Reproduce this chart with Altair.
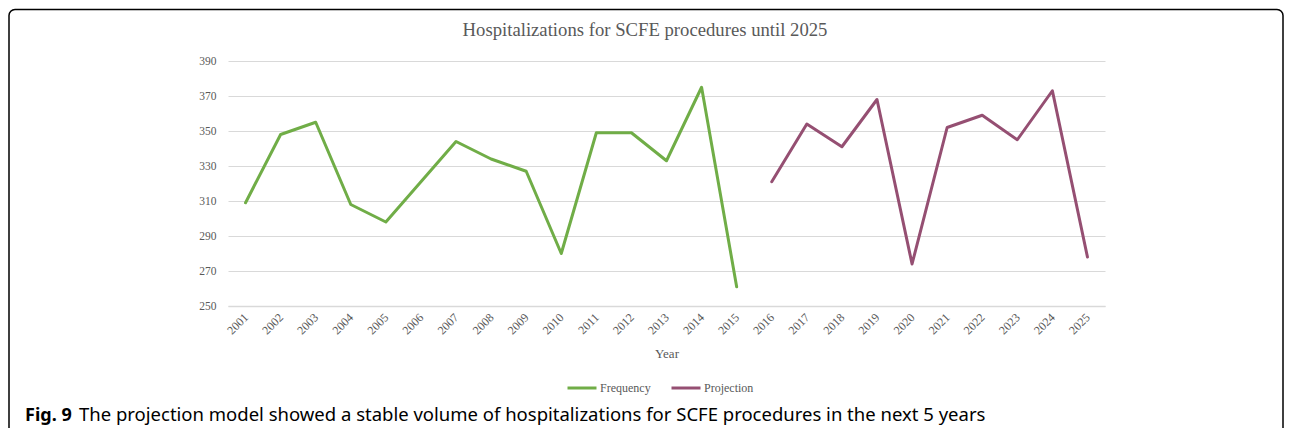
import altair as alt
import pandas as pd

years = [str(y) for y in range(2001, 2026)]
freq_years = [str(y) for y in range(2001, 2016)]
frequency = [309, 348, 355, 308, 298, 321, 344, 334, 327, 280, 349, 349, 333, 375, 261]
proj_years = [str(y) for y in range(2016, 2026)]
projection = [321, 354, 341, 368, 274, 352, 359, 345, 373, 278]
series_names = ["Frequency", "Projection"]
series_colors = ["#70AD47", "#954F72"]
y_ticks = [250, 270, 290, 310, 330, 350, 370, 390]

title_text = "Hospitalizations for SCFE procedures until 2025"
caption_bold = "Fig. 9"
caption_text = "The projection model showed a stable volume of hospitalizations for SCFE procedures in the next 5 years"

df = pd.DataFrame(
    {
        "Year": freq_years + proj_years,
        "Value": frequency + projection,
        "Series": ["Frequency"] * len(freq_years) + ["Projection"] * len(proj_years),
    }
)

W, H = 877, 245
PL, PT, PR, PB = 220, 53, 179, 122
SERIF = "Liberation Serif"
GRAY = "#595959"

lines = alt.Chart(df).mark_line(strokeWidth=3, strokeCap="round", strokeJoin="round").encode(
    x=alt.X(
        "Year:O",
        scale=alt.Scale(type="point", domain=years, padding=0.5),
        axis=alt.Axis(
            title="Year",
            labelAngle=-45,
            labelAlign="right",
            labelBaseline="middle",
            labelPadding=9,
            labelFont=SERIF,
            labelFontSize=12,
            labelColor=GRAY,
            ticks=False,
            domainColor="#D9D9D9",
            domainWidth=1.5,
            titleFont=SERIF,
            titleFontSize=13,
            titleFontWeight="normal",
            titleColor=GRAY,
            titleBaseline="alphabetic",
            titleY=51,
            grid=False,
        ),
    ),
    y=alt.Y(
        "Value:Q",
        scale=alt.Scale(domain=[250, 390], nice=False, zero=False),
        axis=alt.Axis(
            title=None,
            values=y_ticks,
            labelFont=SERIF,
            labelFontSize=11.5,
            labelColor=GRAY,
            labelPadding=12,
            ticks=False,
            domain=False,
            gridColor="#D9D9D9",
            gridWidth=1,
        ),
    ),
    color=alt.Color(
        "Series:N",
        scale=alt.Scale(domain=series_names, range=series_colors),
        legend=alt.Legend(
            title=None,
            orient="none",
            direction="horizontal",
            legendX=338,
            legendY=311,
            symbolType="stroke",
            symbolSize=841,
            symbolStrokeWidth=3,
            labelFont=SERIF,
            labelFontSize=12,
            labelColor=GRAY,
            labelOffset=2,
            columnPadding=14,
        ),
    ),
)

title = alt.Chart(pd.DataFrame({"t": [title_text]})).mark_text(
    font=SERIF, fontSize=18.7, color=GRAY, align="center", baseline="alphabetic"
).encode(text="t:N", x=alt.value(417), y=alt.value(-25))

cap1 = alt.Chart(pd.DataFrame({"t": [caption_bold]})).mark_text(
    font="Noto Sans", fontSize=18, fontWeight="bold", color="#000000", align="left", baseline="alphabetic"
).encode(text="t:N", x=alt.value(-203), y=alt.value(360))

cap2 = alt.Chart(pd.DataFrame({"t": [caption_text]})).mark_text(
    font="Noto Sans", fontSize=18.5, color="#000000", align="left", baseline="alphabetic"
).encode(text="t:N", x=alt.value(-149), y=alt.value(360))

frame = alt.Chart(pd.DataFrame({"f": [1]})).mark_rect(
    fill=None, stroke="#000000", strokeWidth=1.5, cornerRadius=6
).encode(
    x=alt.value(-PL + 1),
    x2=alt.value(W + PR - 1),
    y=alt.value(-PT + 1.5),
    y2=alt.value(H + PB + 40),
)

chart = alt.layer(frame, lines, title, cap1, cap2).properties(
    width=W,
    height=H,
    autosize=alt.AutoSizeParams(type="none"),
    padding={"left": PL, "top": PT, "right": PR, "bottom": PB},
).configure_view(stroke=None)

chart.save("out.html", embed_options={"renderer": "svg", "actions": False})
